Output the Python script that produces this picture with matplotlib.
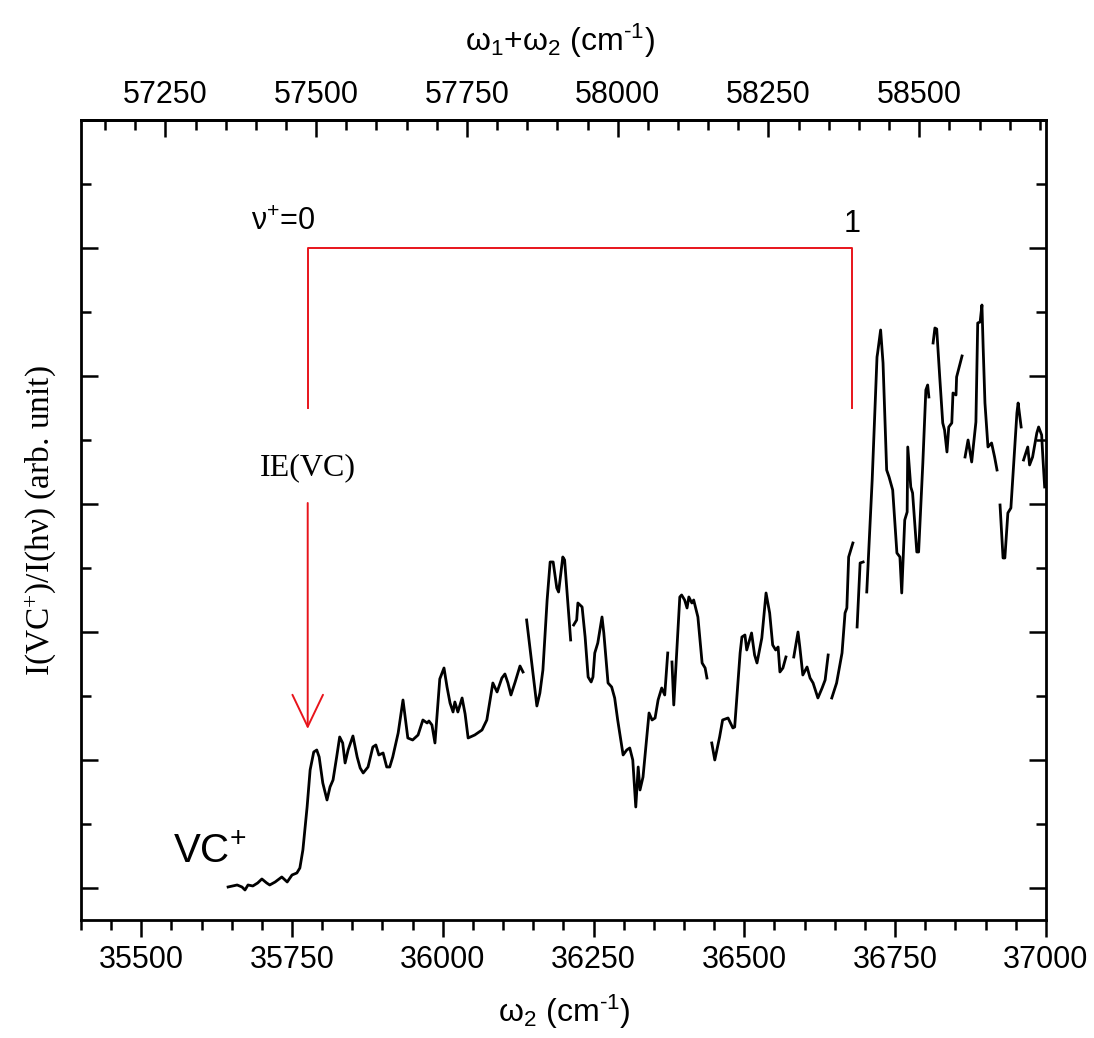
import numpy as np
import matplotlib
matplotlib.use("Agg")
import matplotlib.pyplot as plt
from matplotlib.ticker import MultipleLocator, FixedLocator, NullFormatter

plt.rcParams["font.family"] = ["Liberation Sans", "DejaVu Sans"]
plt.rcParams["mathtext.default"] = "regular"

# omega_2 (cm-1) and ion signal (arb. units); NaN marks a gap between scans
wavenumber = [
    35644, 35659, 35667, 35672, 35677, 35685, 35693, 35700, 35708, 35713,
    35722, 35733, 35742, 35750, 35758, 35763, 35768, 35775, 35780, 35786,
    35791, 35795, 35801, 35808, 35813, 35818, 35824, 35829, 35834, 35838,
    35843, 35851, 35858, 35863, 35868, 35876, 35884, 35889, 35894, 35901,
    35907, 35912, 35917, 35926, 35934, 35942, 35950, 35959, 35967, 35974,
    35977, 35982, 35987, 35995, 36002, 36007, 36012, 36017, 36020, 36025,
    36032, 36037, 36042, 36053, 36065, 36073, 36083, 36090, 36098, 36103,
    36108, 36113, 36120, 36128, 36133, np.nan,
    36139, 36156, 36161, 36166, 36173, 36178, 36183, 36189, 36192, 36199,
    36202, 36212, np.nan,
    36217, 36222, 36224, 36231, 36236, 36241, 36246, 36249, 36252, 36257,
    36264, 36267, 36274, 36280, 36285, 36290, 36299, 36305, 36310, 36315,
    36320, 36324, 36327, 36332, 36342, 36347, 36352, 36357, 36363, 36368,
    36373, np.nan,
    36380, 36383, 36393, 36396, 36401, 36405, 36408, 36413, 36416, 36423,
    36430, 36435, 36438, np.nan,
    36446, 36451, 36459, 36464, 36473, 36481, 36484, 36493, 36496, 36501,
    36504, 36512, 36517, 36521, 36529, 36536, 36542, 36547, 36552, 36556,
    36559, 36564, 36569, np.nan,
    36582, 36589, 36592, 36597, 36604, 36609, 36614, 36622, 36629, 36634,
    36639, np.nan,
    36645, 36653, 36662, 36667, 36670, 36673, 36680, np.nan,
    36687, 36692, 36697, np.nan,
    36703, 36712, 36720, 36721, 36726, 36730, 36736, 36740, 36746, 36753,
    36758, 36761, 36766, 36770, 36771, 36776, 36779, 36786, 36789, 36796,
    36801, 36804, 36806, np.nan,
    36813, 36816, 36819, 36824, 36829, 36832, 36836, 36839, 36844, 36846,
    36851, 36852, 36861, np.nan,
    36866, 36871, 36877, 36884, 36887, 36891, 36894, 36896, 36899, 36904,
    36910, 36915, 36919, np.nan,
    36924, 36929, 36932, 36937, 36942, 36945, 36952, 36954, 36959, np.nan,
    36963, 36970, 36973, 36978, 36985, 36988, 36993, 36995, 36998,
]
signal = [
    1, 3, 1, -2, 3, 2, 5, 9, 5, 3,
    6, 11, 6, 13, 15, 20, 38, 81, 118, 136,
    138, 131, 105, 88, 101, 108, 131, 151, 145, 125,
    138, 152, 131, 120, 115, 121, 141, 143, 133, 135,
    121, 121, 131, 155, 188, 150, 148, 153, 168, 165,
    167, 163, 145, 209, 220, 201, 185, 176, 186, 176,
    190, 174, 150, 153, 158, 168, 205, 196, 210, 214,
    205, 193, 206, 222, 216, np.nan,
    268, 182, 195, 218, 288, 326, 326, 300, 296, 331,
    328, 248, np.nan,
    263, 268, 285, 281, 251, 211, 206, 211, 235, 245,
    271, 255, 205, 201, 190, 168, 133, 138, 140, 128,
    81, 121, 98, 111, 175, 168, 170, 188, 200, 193,
    235, np.nan,
    226, 183, 291, 293, 288, 280, 291, 285, 288, 271,
    225, 220, 210, np.nan,
    145, 128, 151, 168, 170, 160, 161, 235, 251, 253,
    238, 255, 233, 225, 250, 295, 275, 243, 238, 241,
    216, 220, 231, np.nan,
    231, 256, 241, 213, 221, 210, 205, 190, 200, 208,
    233, np.nan,
    190, 205, 235, 275, 280, 331, 345, np.nan,
    261, 325, 326, np.nan,
    296, 408, 531, 535, 558, 525, 418, 411, 398, 335,
    331, 295, 368, 376, 441, 401, 395, 336, 336, 425,
    498, 503, 491, np.nan,
    545, 560, 559, 511, 465, 458, 436, 461, 465, 495,
    493, 511, 532, np.nan,
    431, 448, 426, 466, 565, 566, 583, 541, 485, 441,
    445, 431, 418, np.nan,
    383, 330, 330, 375, 380, 408, 475, 485, 461, np.nan,
    428, 441, 423, 431, 455, 461, 453, 431, 401,
]

# assignment comb and ionisation energy
ie_vc = 35776          # v+ = 0 origin (cm-1)
v1_line = 36678        # v+ = 1
comb_level = 640
comb_foot = 480
arrow_top = 385
arrow_tip = 159
omega1 = 21710         # top axis offset: omega1 + omega2
top_ticks = [57250, 57500, 57750, 58000, 58250, 58500]

fig = plt.figure(figsize=(10.94, 10.38), dpi=100)
ax = fig.add_axes([0.074, 0.1137, 0.882, 0.7707])

ax.plot(wavenumber, signal, color="black", lw=2.0)

red = "#e8141b"
ax.plot([ie_vc, ie_vc, v1_line, v1_line],
        [comb_foot, comb_level, comb_level, comb_foot], color=red, lw=1.4)
ax.annotate("", xy=(ie_vc, arrow_tip), xytext=(ie_vc, arrow_top),
            arrowprops=dict(arrowstyle="->,head_length=2.3,head_width=1.1",
                            color=red, lw=1.4, mutation_scale=10,
                            shrinkA=0, shrinkB=0))

ax.text(35735, 666, "ν$^{+}$=0", fontsize=22, ha="center", va="center")
ax.text(v1_line, 664, "1", fontsize=22, ha="center", va="center")
ax.text(ie_vc, 420, "IE(VC)", fontsize=23, ha="center", va="center",
        family="Liberation Serif")
ax.text(35553, 36, "VC$^{+}$", fontsize=29, ha="left", va="center")

ax.set_xlim(35400, 37000)
ax.set_ylim(-32, 768)

ax.xaxis.set_major_locator(MultipleLocator(250))
ax.xaxis.set_minor_locator(MultipleLocator(50))
ax.yaxis.set_major_locator(MultipleLocator(128))
ax.yaxis.set_minor_locator(MultipleLocator(64))
ax.yaxis.set_major_formatter(NullFormatter())

ax.tick_params(axis="x", which="both", direction="out", labelsize=22, pad=6)
ax.tick_params(axis="y", which="both", direction="in", left=True, right=True)
ax.tick_params(which="major", length=12, width=1.8)
ax.tick_params(which="minor", length=7, width=1.8)
for sp in ax.spines.values():
    sp.set_linewidth(2.0)

top = ax.secondary_xaxis("top", functions=(lambda x: x + omega1,
                                           lambda x: x - omega1))
top.xaxis.set_major_locator(FixedLocator(top_ticks))
top.xaxis.set_minor_locator(MultipleLocator(50))
top.tick_params(which="both", direction="in", labelsize=22, pad=7, width=1.8)
top.tick_params(which="major", length=12)
top.tick_params(which="minor", length=7)
top.spines["top"].set_linewidth(2.0)

fig.text(0.516, 0.025, "ω$_2$ (cm$^{\u20101}$)", fontsize=23, ha="center", va="center")
fig.text(0.512, 0.961, "ω$_1$+ω$_2$ (cm$^{\u20101}$)", fontsize=23, ha="center", va="center")
fig.text(0.037, 0.498, "I(VC$^{+}$)/I(hν) (arb. unit)", fontsize=24,
         rotation=90, ha="center", va="center", family="Liberation Serif")

fig.savefig("out.png", dpi=100)
